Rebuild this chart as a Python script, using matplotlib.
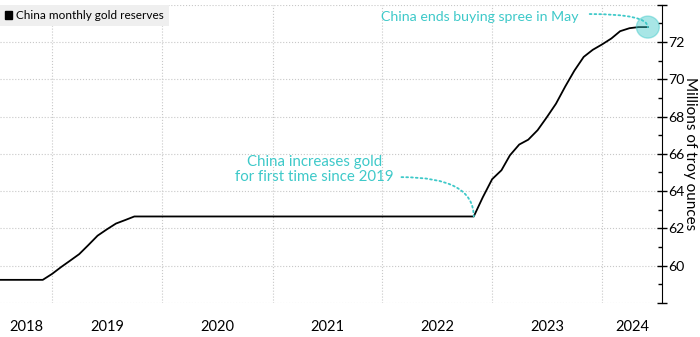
import matplotlib
matplotlib.use("Agg")
import matplotlib.pyplot as plt
import matplotlib.dates as mdates
from matplotlib.patches import Ellipse
import pandas as pd
import datetime as dt

plt.rcParams['font.family'] = ['Lato', 'DejaVu Sans']

# monthly reserves, millions of troy ounces (month end)
months = pd.date_range('2018-01-31', '2024-05-31', freq='ME')
reserves = [
    59.24, 59.24, 59.24, 59.24, 59.24, 59.24, 59.24, 59.24, 59.24, 59.24, 59.24, 59.56,
    59.94, 60.26, 60.62, 61.10, 61.61, 61.94, 62.26, 62.45, 62.64, 62.64, 62.64, 62.64,
    62.64, 62.64, 62.64, 62.64, 62.64, 62.64, 62.64, 62.64, 62.64, 62.64, 62.64, 62.64,
    62.64, 62.64, 62.64, 62.64, 62.64, 62.64, 62.64, 62.64, 62.64, 62.64, 62.64, 62.64,
    62.64, 62.64, 62.64, 62.64, 62.64, 62.64, 62.64, 62.64, 62.64, 62.64, 63.67, 64.64,
    65.12, 65.92, 66.50, 66.76, 67.27, 67.95, 68.69, 69.62, 70.46, 71.20, 71.58, 71.87,
    72.19, 72.58, 72.74, 72.80, 72.80,
]
years = [2018, 2019, 2020, 2021, 2022, 2023, 2024]
y_ticks = [60, 62, 64, 66, 68, 70, 72]

cyan = '#3ec9c9'
x_left = dt.datetime(2018, 7, 11)
x_right = dt.datetime(2024, 7, 17)

fig = plt.figure(figsize=(7, 3.37), dpi=100)
ax = fig.add_axes([0.0, 0.101, 0.9457, 0.885])

ax.plot(months, reserves, color='black', lw=1.3, zorder=3)

ax.set_xlim(x_left, x_right)
ax.set_ylim(58, 74)

# grid
ax.set_xticks([dt.datetime(y, 1, 1) for y in years[1:]])
ax.tick_params(axis='x', length=0, labelbottom=False)
ax.grid(True, which='major', color='#c8c8c8', ls=':', lw=0.8)
ax.set_axisbelow(True)

# year labels centred on the visible part of each year
for y in years:
    a = max(mdates.date2num(dt.datetime(y, 1, 1)), mdates.date2num(x_left))
    b = min(mdates.date2num(dt.datetime(y + 1, 1, 1)), mdates.date2num(x_right))
    ax.text((a + b) / 2, -0.08, str(y), transform=ax.get_xaxis_transform(),
            ha='center', va='center', fontsize=10.5)

# right axis
ax.yaxis.tick_right()
ax.yaxis.set_label_position('right')
ax.set_yticks(y_ticks + [58, 74])
ax.set_yticklabels([str(v) for v in y_ticks] + ['', ''])
ax.set_yticks([59, 61, 63, 65, 67, 69, 71, 73], minor=True)
ax.tick_params(axis='y', which='major', direction='inout', length=7, width=1,
               labelsize=10.2, pad=1)
ax.tick_params(axis='y', which='minor', direction='in', length=3, width=1)
ax.set_ylabel('Millions of troy ounces', rotation=-90, labelpad=9, fontsize=11)
for s in ['left', 'top', 'bottom']:
    ax.spines[s].set_visible(False)
ax.spines['right'].set_color('black')

# legend box
leg = ax.legend([plt.Rectangle((0, 0), 1, 1, color='black')], ['China monthly gold reserves'],
                loc='upper left', bbox_to_anchor=(0.0, 1.0), frameon=True, fancybox=False,
                handlelength=0.6, handleheight=0.6, handletextpad=0.3, borderpad=0.45,
                borderaxespad=0.0, fontsize=8.5)
leg.get_frame().set_facecolor('#efefef')
leg.get_frame().set_edgecolor('none')
leg.get_frame().set_alpha(1)

# annotations
ax.annotate('', xy=(months[57], reserves[57]), xytext=(dt.datetime(2022, 3, 5), 64.75),
            arrowprops=dict(arrowstyle='-', color=cyan, ls=':', lw=1.3,
                            connectionstyle='angle3,angleA=0,angleB=90',
                            shrinkA=0, shrinkB=0))
ax.text(dt.datetime(2021, 5, 20), 65.15, 'China increases gold\nfor first time since 2019',
        ha='center', va='center', color=cyan, fontsize=10.8, linespacing=1.05)

ax.annotate('', xy=(months[-1], reserves[-1]), xytext=(dt.datetime(2023, 11, 20), 73.5),
            arrowprops=dict(arrowstyle='-', color=cyan, ls=':', lw=1.3,
                            connectionstyle='angle3,angleA=0,angleB=90',
                            shrinkA=0, shrinkB=0))
ax.text(dt.datetime(2022, 11, 21), 73.34, 'China ends buying spree in May',
        ha='center', va='center', color=cyan, fontsize=10.2)
circle = Ellipse((mdates.date2num(months[-1]), reserves[-1]), width=76, height=1.18,
                 facecolor=cyan, alpha=0.45, edgecolor=cyan, lw=1, zorder=4)
ax.add_patch(circle)

fig.savefig('out.png', dpi=100)
